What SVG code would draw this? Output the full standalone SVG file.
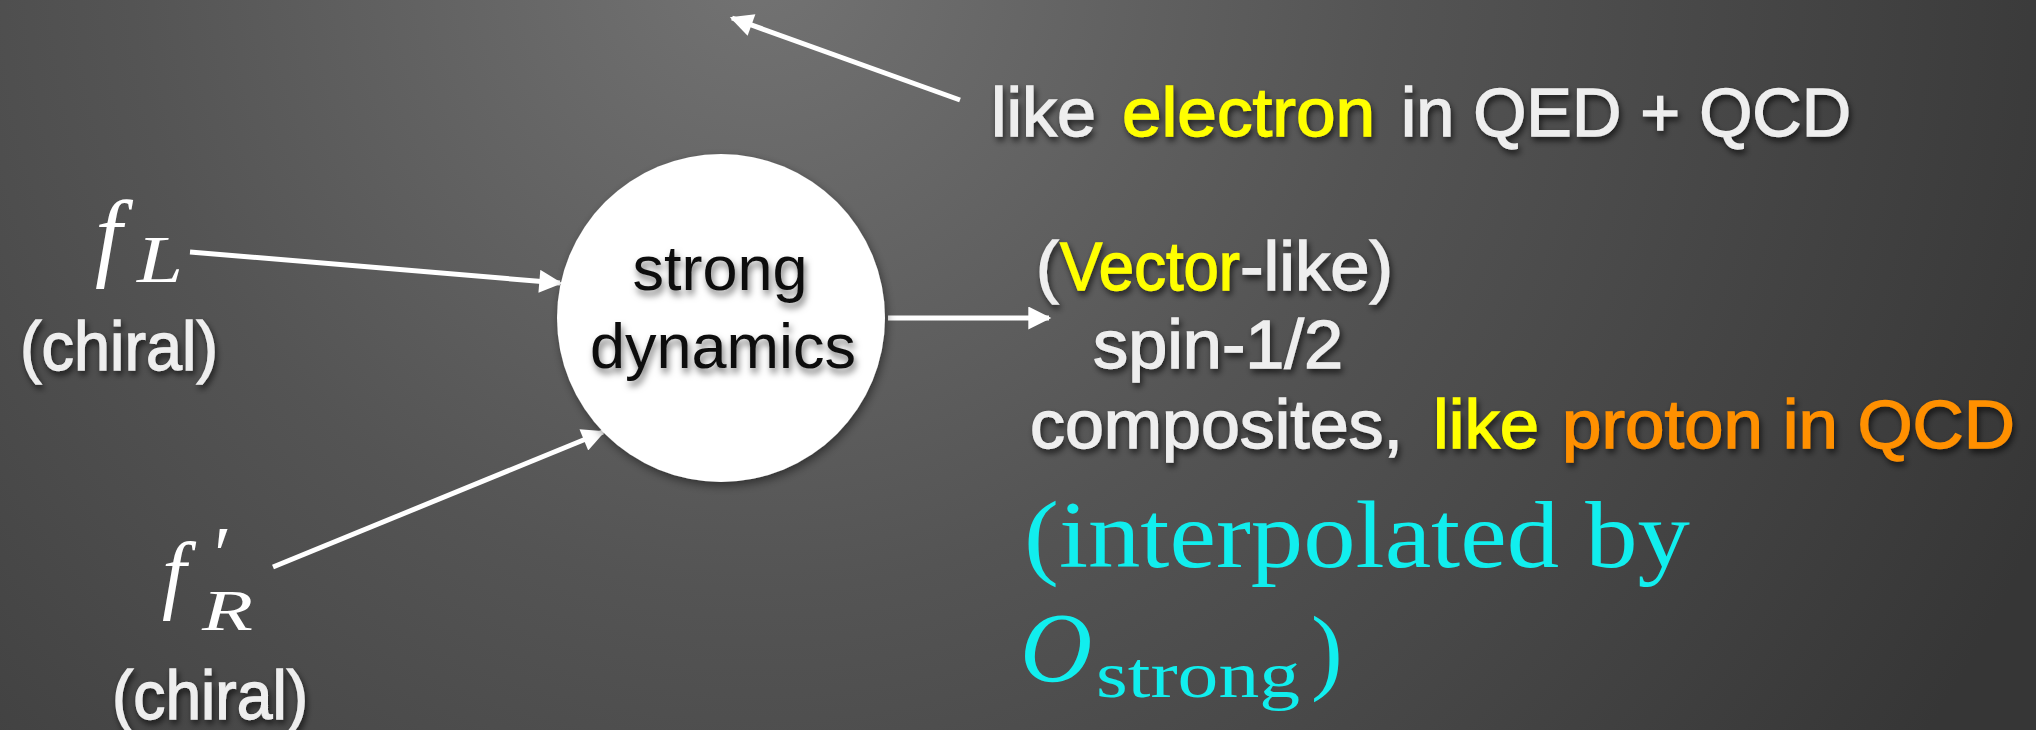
<svg xmlns="http://www.w3.org/2000/svg" width="2036" height="730" viewBox="0 0 2036 730">
<defs>
  <radialGradient id="bg" cx="760" cy="-40" r="1400" gradientUnits="userSpaceOnUse">
    <stop offset="0" stop-color="#737373"/>
    <stop offset="0.45" stop-color="#545454"/>
    <stop offset="1" stop-color="#363636"/>
  </radialGradient>
  <filter id="tshadow" x="-10%" y="-30%" width="130%" height="170%">
    <feDropShadow dx="2" dy="4" stdDeviation="3" flood-color="#000" flood-opacity="0.65"/>
  </filter>
  <filter id="nshadow" x="-10%" y="-30%" width="130%" height="170%">
    <feDropShadow dx="2" dy="5" stdDeviation="3.5" flood-color="#000" flood-opacity="0.55"/>
  </filter>
  <filter id="cshadow" x="-20%" y="-20%" width="140%" height="140%">
    <feDropShadow dx="2" dy="4" stdDeviation="5" flood-color="#000" flood-opacity="0.45"/>
  </filter>
  <marker id="ah" viewBox="0 0 10 10" refX="9" refY="5" markerWidth="5" markerHeight="4.6" orient="auto" markerUnits="strokeWidth">
    <path d="M0,0 L10,5 L0,10 Z" fill="#ffffff"/>
  </marker>
  <style>
    .sans { font-family: "Liberation Sans", Arial, Helvetica, sans-serif; font-size: 68px; stroke-width: 1.3px; }
    .w { fill: #eeeeee; stroke: #eeeeee; }
    .y { fill: #ffff00; stroke: #ffff00; }
    .o { fill: #ff9000; stroke: #ff9000; }
    .node { font-family: "Liberation Sans", Arial, Helvetica, sans-serif; font-size: 63px; fill: #111111; text-anchor: middle; }
    .math { font-family: "Liberation Serif", "Times New Roman", serif; fill: #ffffff; font-style: italic; }
    .cy { font-family: "Liberation Serif", "Times New Roman", serif; fill: #11eeee; }
    .conn { stroke: #ffffff; stroke-width: 5; fill: none; marker-end: url(#ah); }
  </style>
</defs>
<rect x="0" y="0" width="2036" height="730" fill="url(#bg)"/>

<g id="connectors">
  <line class="conn" x1="960" y1="100" x2="732" y2="18"/>
  <line class="conn" x1="190" y1="252" x2="560" y2="283"/>
  <line class="conn" x1="273" y1="567" x2="603" y2="432"/>
  <line class="conn" x1="888" y1="318" x2="1049" y2="318"/>
</g>

<g id="node-strong-dynamics">
  <circle cx="721" cy="318" r="164" fill="#ffffff" filter="url(#cshadow)"/>
  <text class="node" x="720" y="290" filter="url(#nshadow)">strong</text>
  <text class="node" x="723" y="368" filter="url(#nshadow)">dynamics</text>
</g>

<g id="node-fL">
  <text class="math" x="95" y="268" font-size="97">f</text>
  <text class="math" x="137" y="282" font-size="67" textLength="46" lengthAdjust="spacingAndGlyphs">L</text>
  <text class="sans w" x="20" y="370" font-size="65" textLength="198" lengthAdjust="spacingAndGlyphs" filter="url(#tshadow)">(chiral)</text>
</g>

<g id="node-fR">
  <text class="math" x="162" y="602" font-size="87">f</text>
  <text class="math" x="209" y="582" font-size="80" font-style="normal">′</text>
  <text class="math" x="202" y="630" font-size="58" textLength="51" lengthAdjust="spacingAndGlyphs">R</text>
  <text class="sans w" x="112" y="719" font-size="65" textLength="196" lengthAdjust="spacingAndGlyphs" filter="url(#tshadow)">(chiral)</text>
</g>

<g id="node-electron-label" filter="url(#tshadow)">
  <text class="sans w" x="991" y="136" textLength="105" lengthAdjust="spacingAndGlyphs">like</text>
  <text class="sans y" x="1122" y="136" textLength="253" lengthAdjust="spacingAndGlyphs">electron</text>
  <text class="sans w" x="1401" y="136" textLength="450" lengthAdjust="spacingAndGlyphs">in QED + QCD</text>
</g>

<g id="node-composites" filter="url(#tshadow)">
  <text class="sans w" x="1036" y="290">(</text>
  <text class="sans y" x="1060" y="290" textLength="180" lengthAdjust="spacingAndGlyphs">Vector</text>
  <text class="sans w" x="1240" y="290" textLength="153" lengthAdjust="spacingAndGlyphs">-like)</text>
  <text class="sans w" x="1093" y="368" textLength="250" lengthAdjust="spacingAndGlyphs">spin-1/2</text>
  <text class="sans w" x="1030" y="448" textLength="373" lengthAdjust="spacingAndGlyphs">composites,</text>
  <text class="sans y" x="1433" y="448" textLength="106" lengthAdjust="spacingAndGlyphs">like</text>
  <text class="sans o" x="1562" y="448" textLength="453" lengthAdjust="spacingAndGlyphs">proton in QCD</text>
</g>

<g id="node-interpolated">
  <text class="cy" x="1024" y="567" font-size="95" textLength="666" lengthAdjust="spacingAndGlyphs">(interpolated by</text>
  <text class="cy" x="1020" y="681" font-size="100" font-style="italic">O</text>
  <text class="cy" x="1096" y="697" font-size="66" textLength="204" lengthAdjust="spacingAndGlyphs">strong</text>
  <text class="cy" x="1311" y="682" font-size="95">)</text>
</g>
</svg>
